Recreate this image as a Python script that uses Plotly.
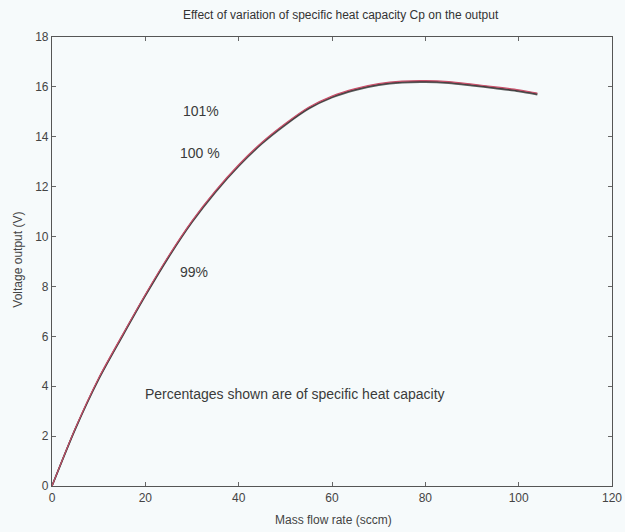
import plotly.graph_objects as go

# Mass flow rate samples (sccm)
flow = [0, 5, 10, 15, 20, 25, 30, 35, 40, 45, 50, 55, 60, 65, 70, 75, 80, 85, 90, 95, 100, 104]

# Voltage output (V) for three specific heat capacity settings
v_101 = [0, 2.28, 4.27, 5.97, 7.62, 9.17, 10.57, 11.77, 12.82, 13.72, 14.47, 15.12, 15.57,
         15.87, 16.07, 16.17, 16.19, 16.15, 16.05, 15.94, 15.82, 15.69]
v_100 = [0, 2.30, 4.30, 6.00, 7.65, 9.20, 10.60, 11.80, 12.85, 13.75, 14.50, 15.15, 15.60,
         15.90, 16.10, 16.20, 16.22, 16.18, 16.08, 15.97, 15.85, 15.72]
v_99 = [0, 2.32, 4.33, 6.03, 7.68, 9.23, 10.63, 11.83, 12.88, 13.78, 14.53, 15.18, 15.63,
        15.93, 16.13, 16.23, 16.25, 16.21, 16.11, 16.00, 15.88, 15.75]

x_ticks = [0, 20, 40, 60, 80, 100, 120]
y_ticks = [0, 2, 4, 6, 8, 10, 12, 14, 16, 18]

FONT = "Liberation Sans Narrow, Arial Narrow, Liberation Sans, Arial, sans-serif"
BG = "#f6fafb"

fig = go.Figure()
fig.add_trace(go.Scatter(x=flow, y=v_101, mode="lines", name="101%",
                         line=dict(color="#5a5a5a", width=1.6, shape="spline", smoothing=0.8),
                         showlegend=False))
fig.add_trace(go.Scatter(x=flow, y=v_100, mode="lines", name="100%",
                         line=dict(color="#3a3a3a", width=1.4, shape="spline", smoothing=0.8),
                         showlegend=False))
fig.add_trace(go.Scatter(x=flow, y=v_99, mode="lines", name="99%",
                         line=dict(color="#c8506a", width=1.2, shape="spline", smoothing=0.8),
                         showlegend=False))

notes = [
    (32.0, 15.05, "101%"),
    (31.7, 13.35, "100 %"),
    (30.5, 8.58, "99%"),
    (52.1, 3.70, "Percentages shown are of specific heat capacity"),
]
for nx, ny, txt in notes:
    fig.add_annotation(x=nx, y=ny, text=txt, showarrow=False,
                       font=dict(family=FONT, size=14, color="#3a3a3a"))

# Axis titles placed relative to the plotting area
fig.add_annotation(x=0.503, y=-0.075, xref="paper", yref="paper", yanchor="middle",
                   text="Mass flow rate (sccm)", showarrow=False,
                   font=dict(family=FONT, size=12, color="#444444"))
fig.add_annotation(x=-0.06, y=0.505, xref="paper", yref="paper", xanchor="center",
                   text="Voltage output (V)", showarrow=False, textangle=-90,
                   font=dict(family=FONT, size=12, color="#444444"))

axis_common = dict(
    showgrid=False, zeroline=False, showline=True, linecolor="#555555", linewidth=1.2,
    mirror="ticks", ticks="inside", ticklen=4, tickcolor="#666666", automargin=False,
    tickfont=dict(family=FONT, size=12, color="#444444"),
)

fig.update_layout(
    width=625, height=532,
    margin=dict(l=52, r=13, t=37, b=46),
    paper_bgcolor=BG, plot_bgcolor=BG,
    title=dict(text="Effect of variation of specific heat capacity Cp on the output",
               x=0.545, xanchor="center", y=0.973, yanchor="middle",
               font=dict(family=FONT, size=12, color="#333333")),
    xaxis=dict(range=[0, 120], tickvals=x_ticks, **axis_common),
    yaxis=dict(range=[0, 18], tickvals=y_ticks, **axis_common),
)

fig.write_html("out.html")
